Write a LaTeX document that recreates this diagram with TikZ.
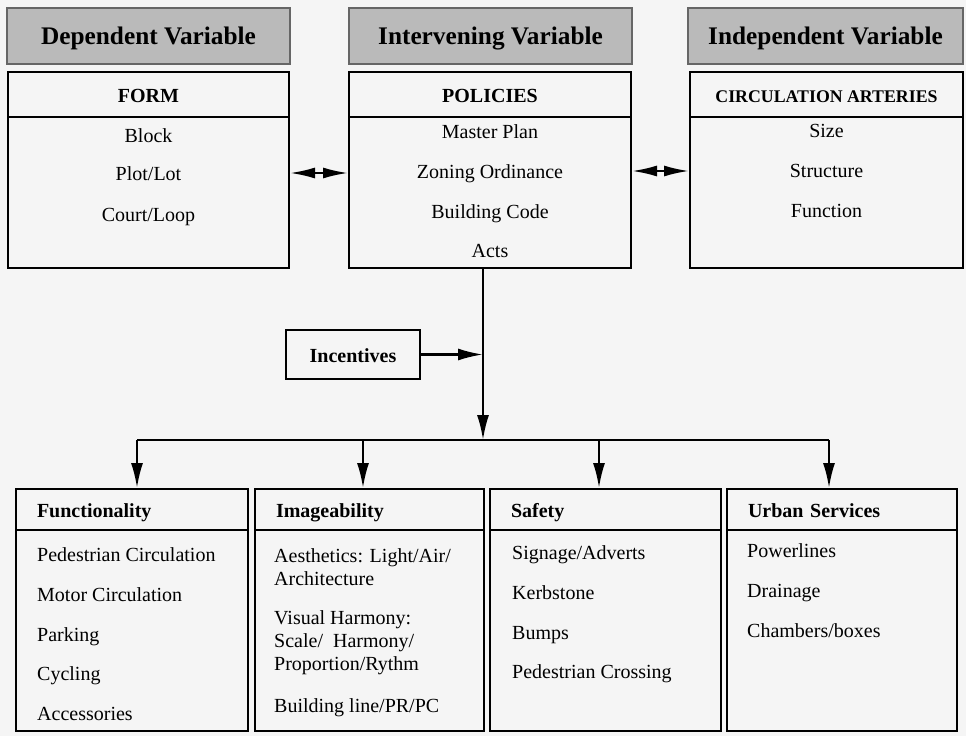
\documentclass[tikz,border=0pt]{standalone}
\usepackage{fontspec}
\setmainfont{Liberation Serif}
\usetikzlibrary{arrows.meta}

\tikzset{
	hdr/.style={draw=black!60, line width=1.3pt, fill=black!27, inner sep=0pt,
		minimum height=56pt, text height=21pt, text depth=5pt,
		font=\fontsize{25.3}{30}\selectfont\bfseries},
	box/.style={draw, line width=2pt, inner sep=0pt},
	ttl/.style={inner sep=0pt, text height=18pt, text depth=2pt,
		font=\fontsize{20}{24}\selectfont\bfseries},
	itm/.style={inner sep=0pt, text height=18pt, text depth=4pt,
		font=\fontsize{20}{24}\selectfont},
	arr/.style={-{Latex[length=25pt,width=12pt]}, line width=2.2pt},
	dbl/.style={{Latex[length=25pt,width=11pt]}-{Latex[length=25pt,width=11pt]}, line width=2.2pt},
}

\begin{document}
\begin{tikzpicture}[x=1pt, y=-1pt]
	\fill[black!4] (0,0) rectangle (966,736);
	\useasboundingbox (0,0) rectangle (966,736);

	% Draw header boxes
	\node[hdr, minimum width=283pt] (dep) at (148.5,36) {Dependent Variable};
	\node[hdr, minimum width=283pt] (int) at (490.5,36) {Intervening Variable};
	\node[hdr, minimum width=275pt] (ind) at (825.5,36) {Independent Variable};

	% Draw upper boxes
	\node[box, ttl, minimum width=281pt, minimum height=45pt] (formtop) at (148.5,94.5) {FORM};
	\node[box, minimum width=281pt, minimum height=151pt] (formbot) at (148.5,192.5) {};
	\node[box, ttl, minimum width=282pt, minimum height=45pt] (poltop) at (490,94.5) {POLICIES};
	\node[box, minimum width=282pt, minimum height=151pt] (polbot) at (490,192.5) {};
	\node[box, ttl, minimum width=273pt, minimum height=45pt,
		font=\fontsize{17.8}{22}\selectfont\bfseries] (circtop) at (826.5,94.5) {CIRCULATION ARTERIES};
	\node[box, minimum width=273pt, minimum height=151pt] (circbot) at (826.5,192.5) {};

	% Draw upper text
	\node[itm] (block) at (148.5,135) {Block};
	\node[itm] (plotlot) at (148.5,173) {Plot/Lot};
	\node[itm] (court) at (148.5,214) {Court/Loop};
	\node[itm] (master) at (490,131) {Master Plan};
	\node[itm] (zoning) at (490,171) {Zoning Ordinance};
	\node[itm] (bcode) at (490,211) {Building Code};
	\node[itm] (acts) at (490,250) {Acts};
	\node[itm] (size) at (826.5,130) {Size};
	\node[itm] (struct) at (826.5,170) {Structure};
	\node[itm] (funct) at (826.5,210) {Function};

	% Draw incentives
	\node[box, ttl, minimum width=134pt, minimum height=49pt] (incent) at (353,354.5) {Incentives};

	% Draw lower boxes
	\node[box, ttl, align=left, text width=190pt, inner xsep=21pt, minimum height=41pt] (functop) at (132,509.5) {Functionality};
	\node[box, minimum width=232pt, minimum height=201pt] (funcbot) at (132,630.5) {};
	\node[box, ttl, align=left, text width=187pt, inner xsep=21pt, minimum height=41pt] (imgtop) at (369.5,509.5) {Imageability};
	\node[box, minimum width=229pt, minimum height=201pt] (imgbot) at (369.5,630.5) {};
	\node[box, ttl, align=left, text width=189pt, inner xsep=21pt, minimum height=41pt] (saftop) at (605.5,509.5) {Safety};
	\node[box, minimum width=231pt, minimum height=201pt] (safbot) at (605.5,630.5) {};
	\node[box, ttl, align=left, text width=188pt, inner xsep=21pt, minimum height=41pt] (urbtop) at (842,509.5) {Urban Services};
	\node[box, minimum width=230pt, minimum height=201pt] (urbbot) at (842,630.5) {};

	% Draw lower text
	\node[itm, anchor=west] (ped) at (37,554) {Pedestrian Circulation};
	\node[itm, anchor=west] (motor) at (37,594) {Motor Circulation};
	\node[itm, anchor=west] (park) at (37,634) {Parking};
	\node[itm, anchor=west] (cycl) at (37,673) {Cycling};
	\node[itm, anchor=west] (access) at (37,713) {Accessories};
	\node[itm, anchor=west] (aesth) at (274,555) {Aesthetics: Light/Air/};
	\node[itm, anchor=west] (archi) at (274,578) {Architecture};
	\node[itm, anchor=west] (visual) at (274,617) {Visual Harmony:};
	\node[itm, anchor=west] (scale) at (274,640) {Scale/~ Harmony/};
	\node[itm, anchor=west] (propor) at (274,663) {Proportion/Rythm};
	\node[itm, anchor=west] (bline) at (274,705) {Building line/PR/PC};
	\node[itm, anchor=west] (sign) at (512,552) {Signage/Adverts};
	\node[itm, anchor=west] (kerb) at (512,592) {Kerbstone};
	\node[itm, anchor=west] (bumps) at (512,632) {Bumps};
	\node[itm, anchor=west] (pcross) at (512,671) {Pedestrian Crossing};
	\node[itm, anchor=west] (power) at (747,550) {Powerlines};
	\node[itm, anchor=west] (drain) at (747,590) {Drainage};
	\node[itm, anchor=west] (chamb) at (747,630) {Chambers/boxes};

	% Draw connectors
	\draw[dbl] (formbot.east |- plotlot) -- (polbot.west |- plotlot);
	\draw[dbl] (polbot.east |- zoning) -- (circbot.west |- zoning);

	\coordinate (bus) at (483,440);
	\coordinate (d1) at (137,440);
	\coordinate (d2) at (363,440);
	\coordinate (d3) at (599,440);
	\coordinate (d4) at (829,440);
	\draw[arr] (polbot.south -| bus) -- (bus);
	\draw[arr] (incent.east) -- (incent.east -| bus);
	\draw[line width=2.2pt] (d1) -- (d4);
	\draw[arr] (d1) -- (d1 |- functop.north);
	\draw[arr] (d2) -- (d2 |- imgtop.north);
	\draw[arr] (d3) -- (d3 |- saftop.north);
	\draw[arr] (d4) -- (d4 |- urbtop.north);
\end{tikzpicture}
\end{document}
